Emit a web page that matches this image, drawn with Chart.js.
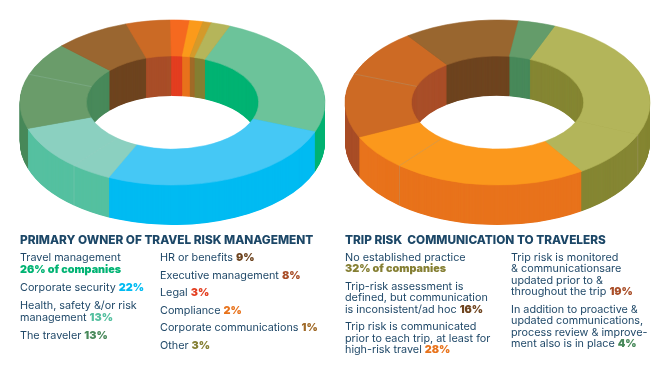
<!DOCTYPE html>
<html>
<head>
<meta charset="utf-8">
<script src="https://cdn.jsdelivr.net/npm/chart.js@4"></script>
<style>
    body { margin: 0; background: #fff; }
    #page { position: relative; width: 670px; height: 370px; overflow: hidden; font-family: Inter, sans-serif; color: #1f4868; }
    canvas { position: absolute; top: 0; }
    .line { position: absolute; white-space: pre; font-size: 10.8px; line-height: 14px; font-weight: 400; }
    .title { font-size: 11.8px; font-weight: 800; color: #1c4767; }
    .line b { font-weight: 900; }
</style>
</head>
<body>
<div id="page">
    <canvas id="owner" width="335" height="370" style="left:0"></canvas>
    <canvas id="comm" width="335" height="370" style="left:335px"></canvas>
</div>
<script>
// slice sizes as drawn in the picture (they differ a bit from the printed percentages)
const ownerSlices = ['Travel management', 'Corporate security', 'Health, safety a', 'Health, safety b', 'The traveler a', 'The traveler b', 'HR or benefits', 'Executive management', 'Legal', 'Compliance', 'Corporate communications', 'Other'];
const ownerValues = [24.6, 26, 4.3, 8.7, 10.6, 6.5, 8, 4.7, 2, 1.4, 0.9, 2];
const ownerTop = ['#6cc39a', '#45c8f5', '#8bd0c0', '#8bd0c0', '#6a9c6a', '#6a9c6a', '#9a6630', '#cb6a25', '#f5691f', '#fb9a1a', '#d49a2a', '#b5b55a'];
const ownerSide = ['#00b373', '#00bbf2', '#55c0a0', '#55c0a0', '#48895a', '#48895a', '#6e441f', '#a94e28', '#e33e20', '#e8731c', '#a06a28', '#857f33'];
const ownerSeams = [2, 4];
const ownerSideSeams = [];

const commSlices = ['No established practice a', 'No established practice b', 'Communicated a', 'Communicated b', 'Monitored a', 'Monitored b', 'Ad hoc', 'Review'];
const commValues = [25.3, 9.3, 20.4, 7, 12.5, 9.4, 12.2, 3.9];
const commTop = ['#b3b55a', '#b3b55a', '#fb981c', '#fb981c', '#cd6a24', '#cd6a24', '#99662f', '#649c6a'];
const commSide = ['#858633', '#858633', '#e8731c', '#e8731c', '#a94e28', '#a94e28', '#6e441f', '#48895a'];
const commSeams = [2, 4];
const commSideSeams = [0];

// [x, y centre, text, bold part, colour of bold part]
const legendLines = [
    [20, 240, 'PRIMARY OWNER OF TRAVEL RISK MANAGEMENT', 'title'],
    [20, 258, 'Travel management'],
    [20, 270, '', '26% of companies', '#00b373'],
    [20, 288, 'Corporate security ', '22%', '#00bbf2'],
    [20, 306, 'Health, safety &/or risk'],
    [20, 318, 'management ', '13%', '#55c0a0'],
    [20, 336, 'The traveler ', '13%', '#48895a'],
    [160, 258, 'HR or benefits ', '9%', '#6e441f'],
    [160, 276, 'Executive management ', '8%', '#a94e28'],
    [160, 293, 'Legal ', '3%', '#e33e20'],
    [160, 311, 'Compliance ', '2%', '#e8731c'],
    [160, 328, 'Corporate communications ', '1%', '#a06a28'],
    [160, 346, 'Other ', '3%', '#857f33'],
    [345, 240, 'TRIP RISK  COMMUNICATION TO TRAVELERS', 'title'],
    [345, 258, 'No established practice'],
    [345, 269, '', '32% of companies', '#857f33'],
    [345, 287, 'Trip-risk assessment is'],
    [345, 298, 'defined, but communication'],
    [345, 310, 'is inconsistent/ad hoc ', '16%', '#6e441f'],
    [345, 327, 'Trip risk is communicated'],
    [345, 339, 'prior to each trip, at least for'],
    [345, 350, 'high-risk travel ', '28%', '#e8731c'],
    [511, 258, 'Trip risk is monitored'],
    [511, 269, '& communicationsare'],
    [511, 281, 'updated prior to &'],
    [511, 292, 'throughout the trip ', '19%', '#a94e28'],
    [511, 310, 'In addition to proactive &'],
    [511, 321, 'updated communications,'],
    [511, 333, 'process review & improve-'],
    [511, 344, 'ment also is in place ', '4%', '#48895a']
];

const page = document.getElementById('page');
legendLines.forEach(([x, y, text, bold, color]) => {
    const el = document.createElement('div');
    el.className = 'line';
    el.style.left = x + 'px';
    el.style.top = (y - 7) + 'px';
    el.textContent = text;
    if (bold === 'title') {
        el.classList.add('title');
    } else if (bold) {
        const b = document.createElement('b');
        b.textContent = bold;
        b.style.color = color;
        el.appendChild(b);
    }
    page.appendChild(el);
});

const squash = 0.541;
const depth = 40;

// tilts the doughnut and extrudes it downwards
const tiltPlugin = {
    id: 'tilt',
    beforeDatasetDraw(chart, args, opts) {
        const ctx = chart.ctx;
        const arcs = chart.getDatasetMeta(0).data;
        ctx.save();
        ctx.translate(opts.cx, opts.cy);
        ctx.scale(1, squash);
        ctx.translate(-arcs[0].x, -arcs[0].y);
        for (let d = depth; d > 0; d -= 0.5) {
            arcs.forEach((arc, i) => {
                ctx.beginPath();
                ctx.arc(arc.x, arc.y + d / squash, arc.outerRadius, arc.startAngle, arc.endAngle);
                ctx.arc(arc.x, arc.y + d / squash, arc.innerRadius, arc.endAngle, arc.startAngle, true);
                ctx.closePath();
                ctx.fillStyle = opts.side[i];
                ctx.fill();
            });
        }
    },
    afterDatasetDraw(chart, args, opts) {
        const ctx = chart.ctx;
        const arcs = chart.getDatasetMeta(0).data;
        ctx.strokeStyle = opts.seamColor;
        ctx.lineWidth = 0.7;
        opts.seams.concat(opts.sideSeams).forEach(i => {
            const arc = arcs[i];
            const c = Math.cos(arc.endAngle), s = Math.sin(arc.endAngle);
            const ox = arc.x + c * arc.outerRadius, oy = arc.y + s * arc.outerRadius;
            ctx.beginPath();
            if (opts.seams.includes(i)) {
                ctx.moveTo(arc.x + c * arc.innerRadius, arc.y + s * arc.innerRadius);
                ctx.lineTo(ox, oy);
            } else {
                ctx.moveTo(ox, oy);
            }
            if (s > 0) ctx.lineTo(ox, oy + depth / squash);
            ctx.stroke();
        });
        ctx.restore();
    }
};

function makeDonut(id, labels, values, top, side, seams, sideSeams, cx, seamColor) {
    new Chart(document.getElementById(id), {
        type: 'doughnut',
        data: {
            labels: labels,
            // a hairline in the slice's own colour hides the gap between neighbours
            datasets: [{ data: values, backgroundColor: top, borderColor: top, borderWidth: 0.8, borderAlign: 'center' }]
        },
        options: {
            responsive: false,
            animation: false,
            rotation: 22,
            radius: 152.5,
            cutout: '56.5%',
            plugins: {
                legend: { display: false },
                tooltip: { enabled: false },
                tilt: { cx: cx, cy: 102.5, side: side, seams: seams, sideSeams: sideSeams, seamColor: seamColor }
            }
        },
        plugins: [tiltPlugin]
    });
}

makeDonut('owner', ownerSlices, ownerValues, ownerTop, ownerSide, ownerSeams, ownerSideSeams, 172.5, 'rgba(170,210,200,0.45)');
makeDonut('comm', commSlices, commValues, commTop, commSide, commSeams, commSideSeams, 162.5, 'rgba(170,160,130,0.7)');
</script>
</body>
</html>
